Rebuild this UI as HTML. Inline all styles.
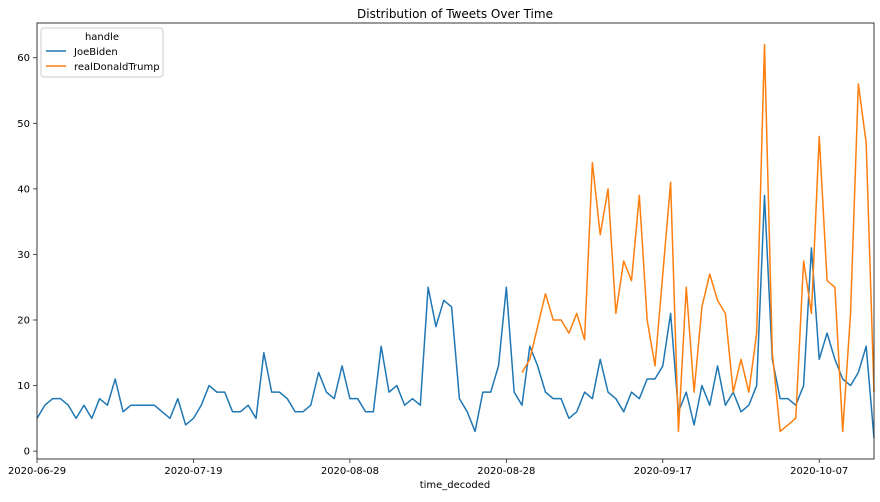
<!DOCTYPE html>
<html><head><meta charset="utf-8"><style>
body{margin:0;background:#fff;font-family:"Liberation Sans","DejaVu Sans",sans-serif;}
svg text{font-family:"DejaVu Sans","Liberation Sans",sans-serif;}
</style></head><body>
<svg id="chart" width="880" height="497" xmlns="http://www.w3.org/2000/svg">
<rect width="880" height="497" fill="#fff"/>
<text x="455" y="18" text-anchor="middle" font-size="12">Distribution of Tweets Over Time</text>
<text x="455" y="488" text-anchor="middle" font-size="10">time_decoded</text>
<g id="grid"></g>
<g id="series"></g>
<rect x="37" y="23" width="837" height="436" fill="none" stroke="#222" stroke-width="0.9"/>
<g id="ticks"></g>
<g>
<rect x="41" y="28" width="122" height="49" rx="3" fill="#fff" fill-opacity="0.8" stroke="#ccc"/>
<text x="102" y="40" text-anchor="middle" font-size="10">handle</text>
<g><line x1="46" y1="51" x2="66" y2="51" stroke="#1f77b4" stroke-width="1.5"/><text x="74" y="55" font-size="10">JoeBiden</text></g>
<g><line x1="46" y1="66" x2="66" y2="66" stroke="#ff7f0e" stroke-width="1.5"/><text x="74" y="70" font-size="10">realDonaldTrump</text></g>
</g>
</svg>
<script>
const bidenCounts=[5,7,8,8,7,5,7,5,8,7,11,6,7,7,7,7,6,5,8,4,5,7,10,9,9,6,6,7,5,15,9,9,8,6,6,
7,12,9,8,13,8,8,6,6,16,9,10,7,8,7,25,19,23,22,8,6,3,9,9,13,25,9,7,16,13,9,8,8,5,6,
9,8,14,9,8,6,9,8,11,11,13,21,6,9,4,10,7,13,7,9,6,7,10,39,14,8,8,7,10,31,14,18,14,11,10,12,16,2];
const trumpStartDay=62;
const trumpCounts=[12,14,19,24,20,20,18,21,17,44,33,40,21,29,26,39,20,13,27,41,3,25,9,22,27,23,21,9,14,9,18,62,15,3,4,5,29,21,48,26,25,3,21,56,47,9];
const xTickLabels=["2020-06-29","2020-07-19","2020-08-08","2020-08-28","2020-09-17","2020-10-07"];
const xTickDays=[0,20,40,60,80,100];
const yTicks=[0,10,20,30,40,50,60];
const NS="http://www.w3.org/2000/svg";
const X0=37,X1=874,Y0=23,Y1=459,DMAX=107,VMIN=-1.2,VMAX=65.3;
function xs(d){return X0+(X1-X0)*d/DMAX;}
function ys(v){return Y1-(Y1-Y0)*(v-VMIN)/(VMAX-VMIN);}
function mk(t,a,p){const e=document.createElementNS(NS,t);for(const k in a)e.setAttribute(k,a[k]);p.appendChild(e);return e;}
const tk=document.getElementById('ticks');
xTickDays.forEach((d,i)=>{
 const g=mk('g',{},tk);
 
 
 mk('line',{x1:xs(d),x2:xs(d),y1:Y1,y2:Y1+4,stroke:'#222','stroke-width':0.8},g);
 const t=mk('text',{x:xs(d),y:Y1+15,'text-anchor':'middle','font-size':10},g);t.textContent=xTickLabels[i];
});
yTicks.forEach(v=>{
 const g=mk('g',{},tk);
 
 
 mk('line',{x1:X0-4,x2:X0,y1:ys(v),y2:ys(v),stroke:'#222','stroke-width':0.8},g);
 const t=mk('text',{x:X0-7,y:ys(v)+3.5,'text-anchor':'end','font-size':10},g);t.textContent=v;
});
const sg=document.getElementById('series');
const pb=mk('polyline',{fill:'none',stroke:'#1f77b4','stroke-width':1.5,'stroke-linejoin':'round',points:bidenCounts.map((v,i)=>xs(i)+','+ys(v)).join(' ')},sg);


const pt=mk('polyline',{fill:'none',stroke:'#ff7f0e','stroke-width':1.5,'stroke-linejoin':'round',points:trumpCounts.map((v,i)=>xs(i+trumpStartDay)+','+ys(v)).join(' ')},sg);


</script>
</body></html>
